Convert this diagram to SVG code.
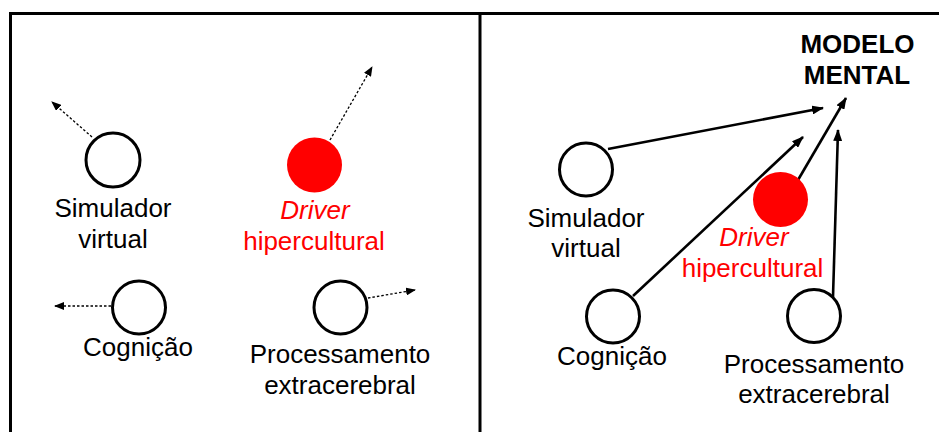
<svg xmlns="http://www.w3.org/2000/svg" width="939" height="432" viewBox="0 0 939 432">
<defs>
<marker id="ah" markerWidth="10" markerHeight="8" refX="9" refY="4" orient="auto" markerUnits="userSpaceOnUse"><path d="M0,0 L10,4 L0,8 Z" fill="#000"/></marker>
<marker id="ahs" markerWidth="12" markerHeight="9" refX="11" refY="4.5" orient="auto" markerUnits="userSpaceOnUse"><path d="M0,0 L12,4.5 L0,9 Z" fill="#000"/></marker>
</defs>
<style>
.frame{stroke:#000;stroke-width:3;fill:none}
.node{fill:#fff;stroke:#000;stroke-width:3}
.red{fill:#ff0000}
.t{font-family:"Liberation Sans",Arial,sans-serif;font-size:26px;fill:#000;text-anchor:middle}
.tr{fill:#ff0000}
.it{font-style:italic}
.b{font-weight:bold}
.dash{stroke:#000;stroke-width:1.3;stroke-dasharray:2.5,2;fill:none;marker-end:url(#ah)}
.sol{stroke:#000;stroke-width:2.6;fill:none;marker-end:url(#ahs)}
</style>
<rect width="939" height="432" fill="#fff"/>
<g id="frame">
<path class="frame" d="M10.5,432 V13.5 H939"/>
<path class="frame" d="M480,13.5 V432"/>
</g>
<g id="connectors">
<line class="dash" x1="92" y1="137" x2="52" y2="102"/>
<line class="dash" x1="330" y1="140" x2="372" y2="67"/>
<line class="dash" x1="111" y1="306" x2="55" y2="306"/>
<line class="dash" x1="368" y1="298" x2="415" y2="290"/>
<line class="sol" x1="608" y1="149" x2="823" y2="108"/>
<line class="sol" x1="633" y1="296" x2="803" y2="137"/>
<line class="sol" x1="798" y1="180" x2="846" y2="98"/>
<line class="sol" x1="833" y1="297" x2="838" y2="130"/>
</g>
<g id="l-simulador">
<circle class="node" cx="113" cy="160" r="27"/>
<text class="t" x="113" y="217">Simulador</text>
<text class="t" x="113" y="248">virtual</text>
</g>
<g id="l-driver">
<circle class="red" cx="314.5" cy="165" r="27.5"/>
<text class="t tr it" x="315" y="219">Driver</text>
<text class="t tr" x="314" y="250">hipercultural</text>
</g>
<g id="l-cognicao">
<circle class="node" cx="139" cy="307.5" r="26.5"/>
<text class="t" x="138" y="356">Cognição</text>
</g>
<g id="l-processamento">
<circle class="node" cx="340.5" cy="307.5" r="26.5"/>
<text class="t" x="340" y="363">Processamento</text>
<text class="t" x="340" y="394">extracerebral</text>
</g>
<g id="r-modelo">
<text class="t b" x="857.5" y="53">MODELO</text>
<text class="t b" x="857" y="84">MENTAL</text>
</g>
<g id="r-simulador">
<circle class="node" cx="586" cy="169.5" r="26.5"/>
<text class="t" x="586" y="227">Simulador</text>
<text class="t" x="586" y="257">virtual</text>
</g>
<g id="r-driver">
<circle class="red" cx="780.5" cy="199.5" r="27.5"/>
<text class="t tr it" x="754" y="246">Driver</text>
<text class="t tr" x="752.5" y="277">hipercultural</text>
</g>
<g id="r-cognicao">
<circle class="node" cx="613" cy="316.5" r="26.5"/>
<text class="t" x="612" y="365">Cognição</text>
</g>
<g id="r-processamento">
<circle class="node" cx="814" cy="316" r="26.5"/>
<text class="t" x="814" y="373">Processamento</text>
<text class="t" x="814" y="403">extracerebral</text>
</g>
</svg>
